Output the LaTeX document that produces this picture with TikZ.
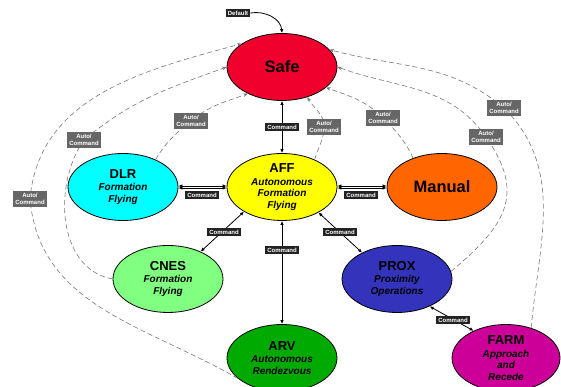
\documentclass[tikz,border=0pt]{standalone}
\usepackage{fontspec}
\setmainfont{Liberation Sans}
\usetikzlibrary{shapes.geometric,arrows.meta}

\definecolor{safered}{RGB}{240,0,45}
\definecolor{dlrcyan}{RGB}{0,255,255}
\definecolor{affyellow}{RGB}{255,255,0}
\definecolor{manorange}{RGB}{255,102,0}
\definecolor{cnesgreen}{RGB}{128,255,128}
\definecolor{proxblue}{RGB}{51,51,187}
\definecolor{arvgreen}{RGB}{0,170,0}
\definecolor{farmmagenta}{RGB}{204,0,153}
\definecolor{cmdfill}{RGB}{34,34,34}
\definecolor{autofill}{RGB}{102,102,102}
\definecolor{dashgray}{RGB}{120,120,120}

\tikzset{
  mode/.style={ellipse, draw, line width=0.8pt, minimum width=110pt, minimum height=67pt,
    inner sep=0pt, align=center, font=\bfseries\itshape\fontsize{10}{11.5}\selectfont},
  cmdlbl/.style={fill=cmdfill, text=white, inner xsep=2pt, inner ysep=1.5pt,
    font=\bfseries\fontsize{6}{7}\selectfont},
  autolbl/.style={fill=autofill, text=white, align=center, inner xsep=2pt, inner ysep=2pt,
    font=\bfseries\fontsize{6}{7.5}\selectfont},
  cmdarrow/.style={line width=0.8pt, {Latex[length=4pt,width=3.5pt]}-{Latex[length=4pt,width=3.5pt]}},
  autoarrow/.style={draw=dashgray, line width=0.6pt, dash pattern=on 5pt off 3pt,
    -{Stealth[length=4.5pt,width=3.5pt]}}
}

\begin{document}
\begin{tikzpicture}[x=1pt,y=1pt]
                \useasboundingbox (0,0) rectangle (561,387);

                \node[mode, fill=safered] (safe) at (282,320) {\upshape\fontsize{16.5}{18}\selectfont Safe};
                \node[mode, fill=affyellow] (aff) at (282,200) {{\upshape\fontsize{13}{14}\selectfont AFF}\\[1pt]Autonomous\\Formation\\Flying};
                \node[mode, fill=dlrcyan] (dlr) at (123,200) {{\upshape\fontsize{13}{14}\selectfont DLR}\\[1pt]Formation\\Flying};
                \node[mode, fill=manorange] (manual) at (442,200) {\upshape\fontsize{16.5}{18}\selectfont Manual};
                \node[mode, fill=cnesgreen] (cnes) at (168,108) {{\upshape\fontsize{13}{14}\selectfont CNES}\\[1pt]Formation\\Flying};
                \node[mode, fill=proxblue] (prox) at (397,108) {{\upshape\fontsize{13}{14}\selectfont PROX}\\[1pt]Proximity\\Operations};
                \node[mode, fill=arvgreen] (arv) at (282,29) {{\upshape\fontsize{13}{14}\selectfont ARV}\\[1pt]Autonomous\\Rendezvous};
                \node[mode, fill=farmmagenta, minimum width=108pt] (farm) at (506,29) {{\upshape\fontsize{13}{14}\selectfont FARM}\\[1pt]Approach\\and\\Recede};

                \coordinate (p1) at (191,266);
                \coordinate (p2) at (324,260);
                \coordinate (p3) at (383,269);
                \coordinate (p4) at (486,250);
                \coordinate (p5) at (504,279);
                \coordinate (p6) at (84,247);
                \coordinate (p7) at (30,188);

                \draw[autoarrow] (dlr.40) to[out=60,in=220] (p1) to[out=40,in=200] (safe.218);
                \draw[autoarrow] (aff.40) to[out=75,in=-90] (p2) to[out=90,in=-60] (safe.-50);
                \draw[autoarrow] (manual.135) to[out=115,in=-45] (p3) to[out=135,in=-20] (safe.-25);
                \draw[autoarrow] (prox.8) to[out=40,in=-55,looseness=1.3] (p4) to[out=125,in=-20] (safe.east);
                \draw[autoarrow] (farm.50) to[out=85,in=-45] (p5) to[out=140,in=-15] (safe.20);
                \draw[autoarrow] (cnes.west) to[out=170,in=-125] (p6) to[out=40,in=-160] (safe.west);
                \draw[autoarrow] (arv.205) to[out=150,in=-85] (p7) to[out=85,in=-165] (safe.150);

                \draw[cmdarrow] (safe.south) -- (aff.north);
                \draw[cmdarrow] ([yshift=1pt]dlr.east) -- ([yshift=1pt]aff.west);
                \draw[cmdarrow] ([yshift=-1pt]dlr.east) -- ([yshift=-1pt]aff.west);
                \draw[cmdarrow] ([yshift=1pt]aff.east) -- ([yshift=1pt]manual.west);
                \draw[cmdarrow] ([yshift=-1pt]aff.east) -- ([yshift=-1pt]manual.west);
                \draw[cmdarrow] (aff.213) -- (cnes.40);
                \draw[cmdarrow] (aff.-35) -- (prox.143);
                \draw[cmdarrow] (aff.south) -- (arv.north);
                \draw[cmdarrow] (prox.-40) -- (farm.140);

                \node[cmdlbl] (default) at (238,374) {Default};
                \draw[line width=0.8pt, -{Latex[length=4pt,width=3.5pt]}] (default.east) to[out=10,in=95] (safe.north);

                \node[cmdlbl] (c1) at (282,260) {Command};
                \node[cmdlbl] (c2) at (202,192) {Command};
                \node[cmdlbl] (c3) at (361,192) {Command};
                \node[cmdlbl] (c4) at (224,155) {Command};
                \node[cmdlbl] (c5) at (340,155) {Command};
                \node[cmdlbl] (c6) at (282,137) {Command};
                \node[cmdlbl] (c7) at (453,67) {Command};

                \node[autolbl] (a1) at (p1) {Auto/\\Command};
                \node[autolbl] (a2) at (p2) {Auto/\\Command};
                \node[autolbl] (a3) at (p3) {Auto/\\Command};
                \node[autolbl] (a4) at (p4) {Auto/\\Command};
                \node[autolbl] (a5) at (p5) {Auto/\\Command};
                \node[autolbl] (a6) at (p6) {Auto/\\Command};
                \node[autolbl] (a7) at (p7) {Auto/\\Command};
\end{tikzpicture}
\end{document}
